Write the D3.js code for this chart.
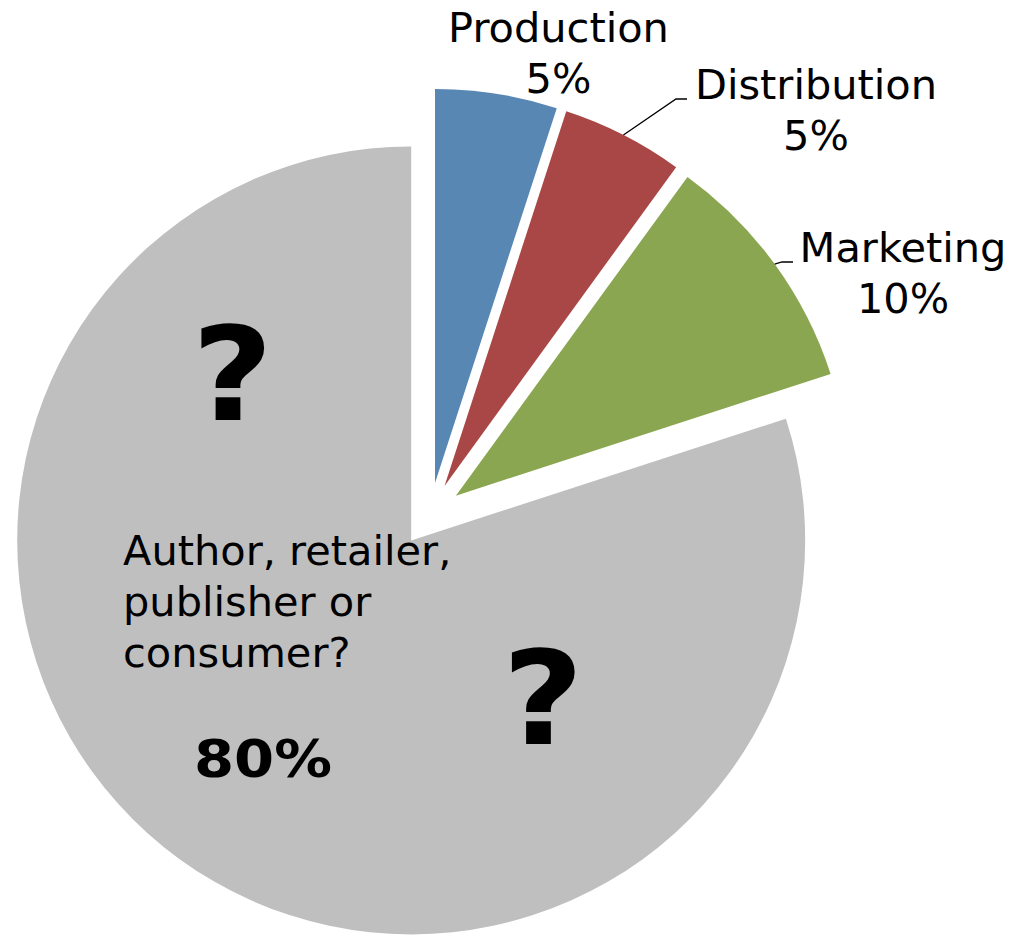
<!DOCTYPE html>
<html>
<head>
<meta charset="utf-8">
<script src="https://cdn.jsdelivr.net/npm/d3@7"></script>
<style>
  html, body { margin: 0; padding: 0; background: #ffffff; }
  svg { display: block; }
  text { font-family: "DejaVu Sans", Verdana, sans-serif; fill: #000; }
</style>
</head>
<body>
<svg id="chart" width="1013" height="936"></svg>
<script>
// Who gets the money: share of a book's price by stage
const categories = ["Production", "Distribution", "Marketing", "Author, retailer, publisher or consumer?"];
const shares = [5, 5, 10, 80];
const sliceColors = ["#5887b4", "#a84745", "#8aa650", "#bfbfbf"];

// Text lines of the big slice's label
const bigLabelLines = ["Author, retailer,", "publisher or", "consumer?"];

// Geometry
const W = 1013, H = 936;
const cx = 430, cy = 514.5;
const radius = 394;
const explode = 32;      // every slice is pulled out along its bisector
const fontSize = 41.5;
const lineGap = 51;

const svg = d3.select("#chart");

const pie = d3.pie().sort(null).value(d => d)
  .startAngle(0).endAngle(2 * Math.PI);
const arcs = pie(shares);
const arc = d3.arc().innerRadius(0).outerRadius(radius);

const mid = a => (a.startAngle + a.endAngle) / 2;
const offset = a => [explode * Math.sin(mid(a)), -explode * Math.cos(mid(a))];

const g = svg.append("g").attr("transform", `translate(${cx},${cy})`);

g.selectAll("path.slice")
  .data(arcs)
  .join("path")
  .attr("class", "slice")
  .attr("transform", d => `translate(${offset(d)})`)
  .attr("d", arc)
  .attr("fill", (d, i) => sliceColors[i]);

// Label placement for the three small slices (page coordinates)
const labelLayout = [
  { x: 558.5, y: 42,  leader: null },
  { x: 816,   y: 99,  leader: [[676, 99], [687, 99]] },
  { x: 903,   y: 262, leader: [[782, 262], [793, 262]] }
];

labelLayout.forEach((lay, i) => {
  const a = arcs[i];
  const [ox, oy] = offset(a);
  const m = mid(a);
  if (lay.leader) {
    const start = [cx + ox + radius * Math.sin(m), cy + oy - radius * Math.cos(m)];
    svg.append("path")
      .attr("d", d3.line()([start, ...lay.leader]))
      .attr("fill", "none")
      .attr("stroke", "#000")
      .attr("stroke-width", 1.3);
  }
  const t = svg.append("text")
    .attr("text-anchor", "middle")
    .attr("font-size", fontSize);
  t.append("tspan").attr("x", lay.x).attr("y", lay.y).text(categories[i]);
  t.append("tspan").attr("x", lay.x).attr("y", lay.y + lineGap).text(shares[i] + "%");
});

// Label inside the large grey slice
const big = svg.append("text").attr("font-size", fontSize);
bigLabelLines.forEach((line, k) => {
  big.append("tspan").attr("x", 123).attr("y", 565 + k * lineGap).text(line);
});
svg.append("text")
  .attr("x", 194).attr("y", 777)
  .attr("font-size", 52)
  .attr("font-weight", "bold")
  .attr("textLength", 138)
  .attr("lengthAdjust", "spacingAndGlyphs")
  .text(shares[3] + "%");

// Two large question marks on the grey slice
[[232.5, 420], [543, 744]].forEach(([x, y]) => {
  svg.append("text")
    .attr("transform", `translate(${x},${y}) scale(1.08,1)`)
    .attr("text-anchor", "middle")
    .attr("font-size", 130)
    .attr("font-weight", "bold")
    .text("?");
});
</script>
</body>
</html>
